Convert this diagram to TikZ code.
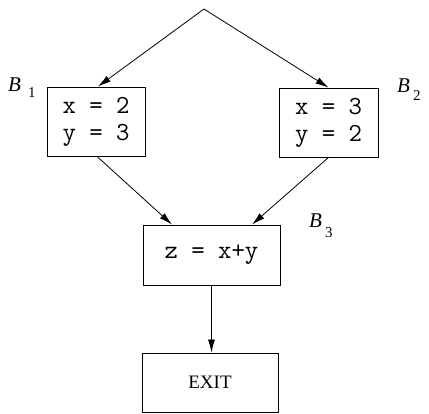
\documentclass[tikz,border=0pt]{standalone}
\usepackage{fontspec}
\setmainfont{Liberation Serif}
\usetikzlibrary{arrows.meta,calc}
\begin{document}
\begin{tikzpicture}[x=1pt,y=-1pt,
  blockbox/.style={draw, line width=0.9pt, inner sep=0pt, align=left,
    font=\fontsize{26}{27}\selectfont\ttfamily},
  exitbox/.style={draw, line width=0.9pt, inner sep=0pt,
    font=\fontsize{19}{22}\selectfont},
  blabel/.style={anchor=base west, inner sep=0pt, font=\fontsize{21}{21}\selectfont},
  flow/.style={line width=0.8pt, -{Latex[length=13pt,width=7pt]}}]
\useasboundingbox (0,0) rectangle (429,413);
\coordinate (top) at (204,9);
\node[blockbox, minimum width=98pt, minimum height=69pt] (b1) at (96,121.5) {x = 2\\y = 3};
\node[blockbox, minimum width=99pt, minimum height=69pt] (b2) at (328.5,122.5) {x = 3\\y = 2};
\node[blockbox, minimum width=137pt, minimum height=60pt] (b3) at (211.5,255) {z = x+y};
\node[exitbox, minimum width=136pt, minimum height=59pt] (exit) at (210,382.5) {EXIT};
\node[blabel] (l1) at (8,91) {\textit{B}\hspace{7pt}\raisebox{-6pt}{\fontsize{15}{15}\selectfont 1}};
\node[blabel] (l2) at (397,92) {\textit{B}\hspace{3pt}\raisebox{-8pt}{\fontsize{15}{15}\selectfont 2}};
\node[blabel] (l3) at (309,227) {\textit{B}\hspace{3pt}\raisebox{-10pt}{\fontsize{15}{15}\selectfont 3}};
\draw[flow] (top) -- ($(b1.north)+(2pt,0)$);
\draw[flow] (top) -- (b2.north);
\draw[flow] ($(b1.south)+(1pt,0)$) -- ($(b3.north)+(-39.5pt,0)$);
\draw[flow] (b2.south) -- ($(b3.north)+(40.5pt,0)$);
\draw[flow] (b3.south) -- (b3.south |- exit.north);
\end{tikzpicture}
\end{document}
